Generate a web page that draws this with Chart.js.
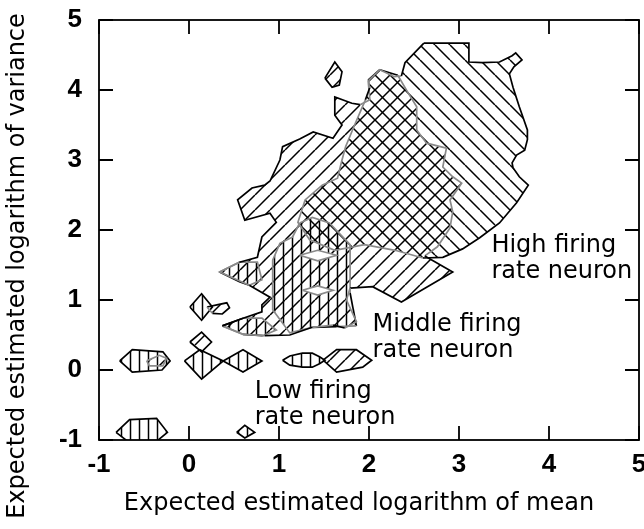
<!DOCTYPE html>
<html>
<head>
<meta charset="utf-8">
<script src="https://cdn.jsdelivr.net/npm/chart.js@4.4.0/dist/chart.umd.min.js"></script>
<style>
  html, body { margin: 0; padding: 0; background: #fff; }
</style>
</head>
<body>
<canvas id="fig" width="644" height="529"></canvas>
<script>
// axis ticks
const xTicks = [-1, 0, 1, 2, 3, 4, 5];
const yTicks = [-1, 0, 1, 2, 3, 4, 5];

// contour regions as [log mean, log variance] pairs
const highRate = [
  [2.61, 4.67], [3.11, 4.67], [3.11, 4.40], [3.26, 4.39], [3.45, 4.40], [3.59, 4.49],
  [3.63, 4.53], [3.70, 4.43], [3.61, 4.33], [3.56, 4.23], [3.60, 4.04], [3.67, 3.76],
  [3.76, 3.43], [3.76, 3.29], [3.73, 3.14], [3.64, 3.07], [3.59, 2.96], [3.60, 2.89],
  [3.67, 2.76], [3.77, 2.64], [3.64, 2.39], [3.45, 2.10], [3.23, 1.89], [3.04, 1.73],
  [2.82, 1.61], [2.60, 1.60], [2.29, 1.71], [1.95, 1.79], [1.62, 1.71], [1.34, 1.86],
  [1.21, 2.11], [1.29, 2.43], [1.48, 2.64], [1.65, 2.74], [1.70, 3.00], [1.74, 3.19],
  [1.84, 3.50], [1.96, 3.86], [2.01, 4.04], [2.00, 4.14], [2.12, 4.29], [2.28, 4.19],
  [2.36, 4.20], [2.40, 4.39]
];

const middleRate = [
  [2.12, 4.29], [2.32, 4.21], [2.43, 3.97], [2.53, 3.76], [2.53, 3.43], [2.64, 3.24],
  [2.86, 3.17], [2.82, 2.90], [2.93, 2.76], [3.03, 2.67], [2.90, 2.43], [2.93, 2.26],
  [2.90, 2.03], [2.76, 1.76], [2.62, 1.63], [2.93, 1.40], [2.36, 0.97], [2.04, 1.19],
  [1.79, 1.17], [1.75, 1.00], [1.86, 0.69], [1.73, 0.60], [1.60, 0.64], [1.37, 0.61],
  [1.12, 0.50], [0.84, 0.49], [0.60, 0.51], [0.37, 0.63], [0.60, 0.74], [0.81, 0.83],
  [0.81, 0.93], [0.90, 1.04], [0.67, 1.21], [0.34, 1.40], [0.56, 1.54], [0.76, 1.61],
  [0.81, 1.90], [0.97, 2.11], [0.90, 2.24], [0.62, 2.14], [0.54, 2.43], [0.70, 2.60],
  [0.84, 2.64], [0.90, 2.70], [1.01, 3.00], [1.04, 3.19], [1.23, 3.30], [1.38, 3.40],
  [1.60, 3.31], [1.70, 3.50], [1.62, 3.64], [1.62, 3.90], [1.81, 3.81], [1.90, 3.79],
  [2.01, 3.86], [1.99, 4.14]
];
const middleTop = [[1.51, 4.17], [1.62, 4.40], [1.70, 4.26], [1.67, 4.07], [1.59, 4.04]];
const middleArrow = [[0.20, 0.90], [0.31, 0.93], [0.42, 0.96], [0.45, 0.89], [0.37, 0.80], [0.26, 0.81]];
const middleSquare = [[0.01, 0.40], [0.14, 0.54], [0.25, 0.40], [0.14, 0.26]];
const middleInner = [[-0.47, 0.13], [-0.33, 0.21], [-0.25, 0.17], [-0.29, 0.06], [-0.44, 0.06]];
const middleRow = [[1.49, 0.14], [1.64, 0.29], [1.86, 0.29], [2.03, 0.14], [1.93, 0.04], [1.64, -0.03]];

const lowMain = [
  [1.23, 2.10], [1.37, 2.18], [1.56, 2.10], [1.79, 1.79], [1.79, 1.10], [1.86, 0.63],
  [1.64, 0.62], [1.37, 0.61], [1.12, 0.53], [0.93, 0.86], [0.93, 1.57], [1.01, 1.81],
  [1.15, 1.90]
];
const lowDiamond = [[0.01, 0.90], [0.14, 1.09], [0.26, 0.90], [0.14, 0.71]];
const lowLeftRow = [[-0.77, 0.13], [-0.63, 0.29], [-0.29, 0.26], [-0.21, 0.13], [-0.30, 0.00], [-0.63, -0.03]];
const lowPairA = [[-0.05, 0.13], [0.12, 0.29], [0.38, 0.13], [0.14, -0.13]];
const lowPairB = [[0.38, 0.13], [0.60, 0.29], [0.81, 0.13], [0.60, -0.03]];
const lowBottom = [[-0.81, -0.89], [-0.66, -0.71], [-0.36, -0.69], [-0.24, -0.89], [-0.38, -1.04], [-0.63, -1.07]];
const lowBottomSmall = [[0.53, -0.89], [0.62, -0.79], [0.73, -0.89], [0.62, -0.97]];
const lowRowRight = [
  [1.04, 0.14], [1.12, 0.20], [1.26, 0.24], [1.37, 0.24], [1.45, 0.19], [1.51, 0.14],
  [1.45, 0.09], [1.37, 0.04], [1.26, 0.04], [1.12, 0.07]
];
const lowUpperTri = [[0.34, 1.40], [0.56, 1.54], [0.76, 1.54], [0.81, 1.29], [0.67, 1.21], [0.56, 1.26]];
const lowLowerTri = [[0.37, 0.63], [0.60, 0.74], [0.81, 0.74], [0.97, 0.57], [0.82, 0.49], [0.60, 0.51]];

// empty lenses inside the low-rate region
const gapUpper = [[1.23, 1.64], [1.43, 1.71], [1.64, 1.64], [1.43, 1.56]];
const gapLower = [[1.26, 1.14], [1.43, 1.20], [1.60, 1.14], [1.43, 1.07]];

// text notes: lines, anchor (data units, first baseline)
const notes = [
  { lines: ['High firing', 'rate neuron'], x: 3.36, y: 1.69 },
  { lines: ['Middle firing', 'rate neuron'], x: 2.04, y: 0.56 },
  { lines: ['Low firing', 'rate neuron'], x: 0.73, y: -0.40 }
];
const xTitle = 'Expected estimated logarithm of mean';
const yTitle = 'Expected estimated logarithm of variance';

const highGroup = [highRate];
const middleGroup = [middleRate, middleTop, middleArrow, middleSquare, middleRow, middleInner];
const lowGroup = [lowMain, lowDiamond, lowLeftRow, lowPairA, lowPairB, lowBottom,
  lowBottomSmall, lowRowRight, lowUpperTri, lowLowerTri];
const gaps = [gapUpper, gapLower];

// hatch fills
function hatch(kind) {
  const s = kind === 'v' ? 9 : 15;
  const c = document.createElement('canvas');
  c.width = s; c.height = s;
  const g = c.getContext('2d');
  g.strokeStyle = '#000';
  g.lineWidth = 1.5;
  g.beginPath();
  if (kind === 'v') {
    g.moveTo(s / 2, 0); g.lineTo(s / 2, s);
  } else {
    for (let k = -1; k <= 1; k++) {
      if (kind === 'back') { g.moveTo(k * s, 0); g.lineTo(k * s + s, s); }
      else { g.moveTo(k * s, s); g.lineTo(k * s + s, 0); }
    }
  }
  g.stroke();
  return g.createPattern(c, 'repeat');
}

function inside(poly, px, py) {
  let hit = false;
  for (let i = 0, j = poly.length - 1; i < poly.length; j = i++) {
    const [xi, yi] = poly[i], [xj, yj] = poly[j];
    if ((yi > py) !== (yj > py) && px < (xj - xi) * (py - yi) / (yj - yi) + xi) hit = !hit;
  }
  return hit;
}

const closed = poly => poly.concat([poly[0]]);
const toXY = pts => pts.map(([x, y]) => ({ x, y }));

// filled area only, no outline
function area(poly, fillPattern, order) {
  return {
    data: toXY(closed(poly)),
    backgroundColor: fillPattern,
    borderWidth: 0,
    fill: 'shape',
    pointRadius: 0,
    tension: 0,
    order
  };
}

// outline is black, but turns grey where it runs inside another group's region
function outline(poly, others) {
  const pts = closed(poly);
  return {
    data: toXY(pts),
    borderColor: '#000',
    borderWidth: 1.7,
    fill: false,
    pointRadius: 0,
    tension: 0,
    order: 0,
    segment: {
      borderColor: c => {
        const a = pts[c.p0DataIndex], b = pts[c.p1DataIndex];
        const mx = (a[0] + b[0]) / 2, my = (a[1] + b[1]) / 2;
        return others.some(o => inside(o, mx, my)) ? '#8a8a8a' : '#000';
      }
    }
  };
}

const backFill = hatch('back');
const fwdFill = hatch('fwd');
const vertFill = hatch('v');

const datasets = [
  ...highGroup.map(p => area(p, backFill, 3)),
  ...middleGroup.map(p => area(p, fwdFill, 3)),
  ...lowGroup.map(p => area(p, vertFill, 3)),
  ...gaps.map(p => area(p, '#fff', 2)),
  ...highGroup.map(p => outline(p, [...middleGroup, ...lowGroup])),
  ...middleGroup.map(p => outline(p, [...highGroup, ...lowGroup])),
  ...lowGroup.map(p => outline(p, [...highGroup, ...middleGroup])),
  ...gaps.map(p => outline(p, [lowMain]))
];

// box with inward ticks, notes and axis titles
const decorations = {
  id: 'decorations',
  afterDraw(chart) {
    const { ctx, chartArea: a, scales: { x, y } } = chart;
    ctx.save();
    ctx.strokeStyle = '#000';
    ctx.lineWidth = 1.8;
    ctx.strokeRect(a.left, a.top, a.right - a.left, a.bottom - a.top);
    const len = 14;
    ctx.beginPath();
    xTicks.forEach(v => {
      const px = x.getPixelForValue(v);
      ctx.moveTo(px, a.bottom); ctx.lineTo(px, a.bottom - len);
      ctx.moveTo(px, a.top); ctx.lineTo(px, a.top + len);
    });
    yTicks.forEach(v => {
      const py = y.getPixelForValue(v);
      ctx.moveTo(a.left, py); ctx.lineTo(a.left + len, py);
      ctx.moveTo(a.right, py); ctx.lineTo(a.right - len, py);
    });
    ctx.stroke();

    ctx.fillStyle = '#000';
    ctx.font = '24px "DejaVu Sans"';
    ctx.textBaseline = 'alphabetic';
    ctx.textAlign = 'left';
    notes.forEach(n => {
      const px = x.getPixelForValue(n.x);
      const py = y.getPixelForValue(n.y);
      n.lines.forEach((t, i) => ctx.fillText(t, px, py + i * 26));
    });

    ctx.textAlign = 'center';
    ctx.fillText(xTitle, 359, 510);
    ctx.translate(24, 266);
    ctx.rotate(-Math.PI / 2);
    ctx.fillText(yTitle, 0, 0);
    ctx.restore();
  }
};

Chart.defaults.font.family = 'Liberation Sans';
Chart.defaults.font.size = 26;
Chart.defaults.font.weight = 'bold';
Chart.defaults.color = '#000';

new Chart(document.getElementById('fig'), {
  type: 'line',
  data: { datasets },
  options: {
    responsive: false,
    animation: false,
    layout: { padding: { top: 20, right: 5, left: 0, bottom: 0 } },
    plugins: { legend: { display: false }, tooltip: { enabled: false } },
    scales: {
      x: {
        type: 'linear', min: -1, max: 5,
        grid: { display: false, drawTicks: false },
        border: { display: false },
        afterBuildTicks: s => { s.ticks = xTicks.map(value => ({ value })); },
        afterFit: s => { s.height = 89; s.paddingLeft = 0; s.paddingRight = 0; },
        ticks: { font: { size: 26, weight: 'bold' }, padding: 9, maxRotation: 0, autoSkip: false }
      },
      y: {
        type: 'linear', min: -1, max: 5,
        grid: { display: false, drawTicks: false },
        border: { display: false },
        afterBuildTicks: s => { s.ticks = yTicks.map(value => ({ value })); },
        afterFit: s => { s.width = 99; s.paddingTop = 0; s.paddingBottom = 0; },
        ticks: { font: { size: 26, weight: 'bold' }, padding: 17, autoSkip: false }
      }
    }
  },
  plugins: [decorations]
});
</script>
</body>
</html>
